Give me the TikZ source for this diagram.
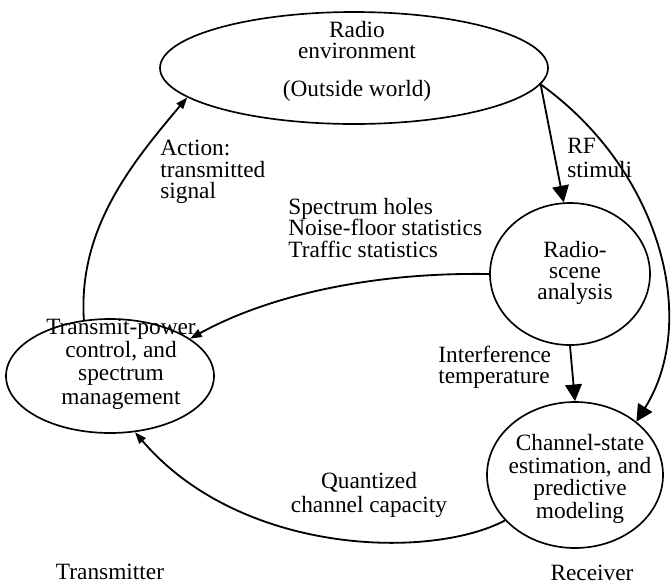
\documentclass[tikz,border=0pt]{standalone}
\usepackage{fontspec}
\setmainfont{Liberation Serif}
\usetikzlibrary{arrows.meta,shapes.geometric}

\newcommand\lblfont[1]{\fontsize{14}{#1}\selectfont\lineskiplimit=-10pt\relax}
\tikzset{
  bubble/.style={draw, ellipse, line width=1pt, inner sep=0pt},
  lbl/.style={inner sep=0pt, font={\lblfont{#1}}},
  lbl/.default=13,
  flow/.style={line width=1.1pt},
  bighead/.style={flow, -{Triangle[length=10pt,width=10pt]}},
  smallhead/.style={flow, -{Triangle[length=7pt,width=5pt]}}
}

\begin{document}
\begin{tikzpicture}[x=0.6pt, y=-0.6pt]
            \useasboundingbox (0,0) rectangle (672,587);
            % the four bubbles
            \node[bubble, minimum width=232.8pt, minimum height=67.2pt] (env) at (354,68) {};
            \node[bubble, minimum width=96pt, minimum height=85.2pt] (scene) at (570,274) {};
            \node[bubble, minimum width=105.6pt, minimum height=87.6pt] (chan) at (575,475) {};
            \node[bubble, minimum width=124.8pt, minimum height=68.4pt] (tx) at (110,376) {};
            \node[lbl=12.7, align=center] (envtext) at (357,61) {Radio\\environment\\[10pt](Outside world)};
            \node[lbl=12.7, align=center] (scenetext) at (575,273) {Radio-\\scene\\analysis};
            \node[lbl=13.6, align=center] (chantext) at (580,479) {Channel-state\\estimation, and\\predictive\\modeling};
            \node[lbl=14, align=center] (txtext) at (121,364) {Transmit-power\\control, and\\spectrum\\management};
            % connectors
            \draw[bighead] (env.-5) -- (scene.95);
            \draw[bighead] (env.-5) .. controls (660,170) and (700,320) .. (chan.41);
            \draw[bighead] (scene.south) -- (chan.north);
            \draw[smallhead] (scene.west) .. controls (360,272) and (260,300) .. (tx.25);
            \draw[smallhead] (chan.213) .. controls (430,560) and (240,555) .. (tx.-66);
            \draw[smallhead] (tx.115) .. controls (78,230) and (130,165) .. (env.190);
            % labels
            \node[lbl=13, anchor=west, align=left] (action) at (160,172) {Action:\\transmitted\\signal};
            \node[lbl=12.7, anchor=west, align=left] (holes) at (288,228) {Spectrum holes\\Noise-floor statistics\\Traffic statistics};
            \node[lbl=14, anchor=west, align=left] (rf) at (567,158) {RF\\stimuli};
            \node[lbl=12.7, anchor=west, align=left] (interf) at (438,367) {Interference\\temperature};
            \node[lbl=14.4, align=center] (capacity) at (369,495) {Quantized\\channel capacity};
            \node[lbl] (transmitter) at (110,572) {Transmitter};
            \node[lbl] (receiver) at (592,573) {Receiver};
        \end{tikzpicture}
\end{document}
